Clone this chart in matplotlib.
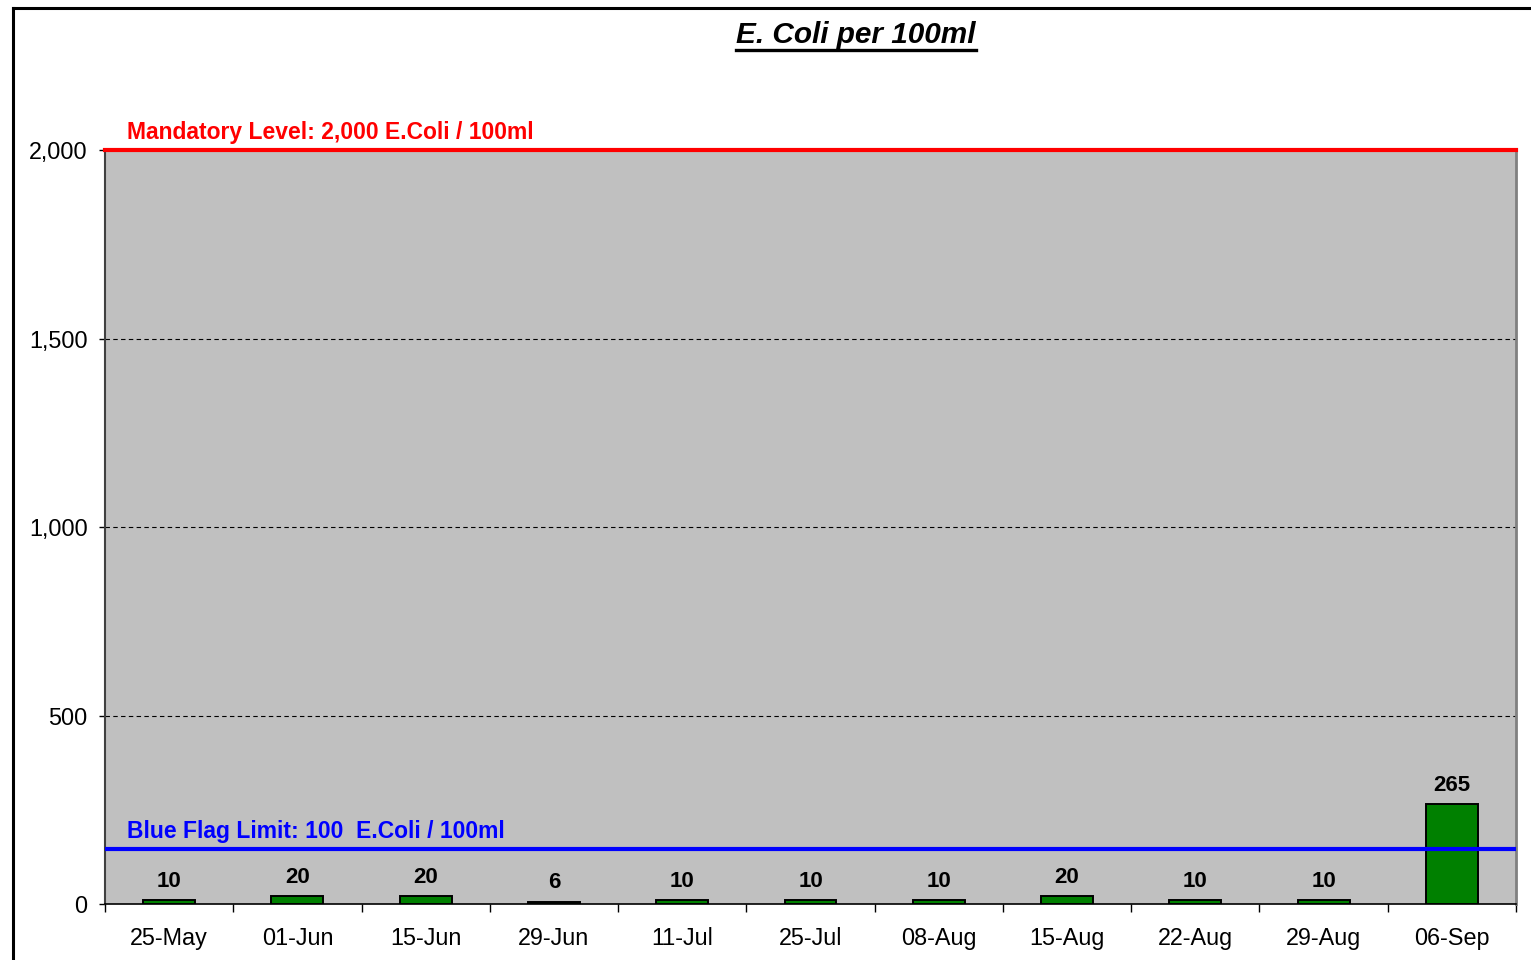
import matplotlib
matplotlib.use("Agg")
import matplotlib.pyplot as plt
from matplotlib.lines import Line2D
from matplotlib.ticker import FuncFormatter
import matplotlib.transforms as mtransforms

dates = ["25-May", "01-Jun", "15-Jun", "29-Jun", "11-Jul", "25-Jul",
         "08-Aug", "15-Aug", "22-Aug", "29-Aug", "06-Sep"]
ecoli = [10, 20, 20, 6, 10, 10, 10, 20, 10, 10, 265]
mandatory_level = 2000
blue_flag_line = 146
yticks = [0, 500, 1000, 1500, 2000]
title = "E. Coli per 100ml"
mand_label = "Mandatory Level: 2,000 E.Coli / 100ml"
blue_label = "Blue Flag Limit: 100  E.Coli / 100ml"

plt.rcParams['font.family'] = ['Liberation Sans', 'DejaVu Sans']

W, H = 1531, 960
fig = plt.figure(figsize=(W / 100, H / 100), dpi=100)
fig.patch.set_facecolor("white")

# outer chart frame (left and top visible)
fig.add_artist(Line2D([13 / W, 13 / W], [0, 1 - 8 / H], transform=fig.transFigure,
                      color="black", lw=2.2))
fig.add_artist(Line2D([13 / W, 1], [1 - 8 / H, 1 - 8 / H], transform=fig.transFigure,
                      color="black", lw=2.2))

left, right, bottom, top = 105 / W, 1516 / W, 1 - 904 / H, 1 - 150.5 / H
ax = fig.add_axes([left, bottom, right - left, top - bottom])
ax.set_facecolor("#C0C0C0")

x = list(range(len(dates)))
ax.bar(x, ecoli, width=0.405, color="#008000", edgecolor="black", linewidth=1.4, zorder=3)

for xi, v in zip(x, ecoli):
    ax.annotate(str(v), (xi, v), xytext=(0, 6), textcoords="offset points",
                ha="center", va="bottom", fontsize=16, fontweight="bold", color="black",
                zorder=5)

ax.set_xlim(-0.5, len(dates) - 0.5)
ax.set_ylim(0, 2000)

ax.axhline(mandatory_level, color="#FF0000", lw=3, zorder=4, clip_on=False)
ax.axhline(blue_flag_line, color="#0000FF", lw=3, zorder=4)

trans = mtransforms.blended_transform_factory(ax.transAxes, ax.transData)
ax.annotate(mand_label, (0, mandatory_level), xycoords=trans, xytext=(16, 4.5),
            textcoords="offset points", ha="left", va="bottom", fontsize=16.5,
            fontweight="bold", color="#FF0000", annotation_clip=False)
ax.annotate(blue_label, (0, blue_flag_line), xycoords=trans, xytext=(16, 4),
            textcoords="offset points", ha="left", va="bottom", fontsize=16.5,
            fontweight="bold", color="#0000FF")

ax.set_yticks(yticks)
ax.yaxis.set_major_formatter(FuncFormatter(lambda v, p: f"{int(v):,}"))
ax.tick_params(axis="y", length=4.5, width=1, pad=8, labelsize=16.8, colors="black")
for yv in yticks[1:-1]:
    ax.axhline(yv, color="black", lw=0.8, ls=(0, (4, 3)), zorder=1)

ax.set_xticks(x)
ax.set_xticklabels(dates)
ax.tick_params(axis="x", which="major", length=0, pad=16.5, labelsize=16.8)
ax.set_xticks([i - 0.5 for i in range(len(dates) + 1)], minor=True)
ax.tick_params(axis="x", which="minor", length=6, width=1, color="black")

ax.spines["top"].set_visible(False)
ax.spines["left"].set_color("#404040")
ax.spines["left"].set_linewidth(1.5)
ax.spines["bottom"].set_color("black")
ax.spines["bottom"].set_linewidth(1.2)
ax.spines["right"].set_color("#808080")
ax.spines["right"].set_linewidth(2)

t = fig.text(856 / W, 1 - 35 / H, title, ha="center", va="center", fontsize=21.4,
             fontweight="bold", fontstyle="italic")
fig.canvas.draw()
bb = t.get_window_extent()
uy = 1 - 49.5 / H
fig.add_artist(Line2D([bb.x0 / W, bb.x1 / W], [uy, uy], transform=fig.transFigure,
                      color="black", lw=2.4))

fig.savefig("out.png", dpi=100)
